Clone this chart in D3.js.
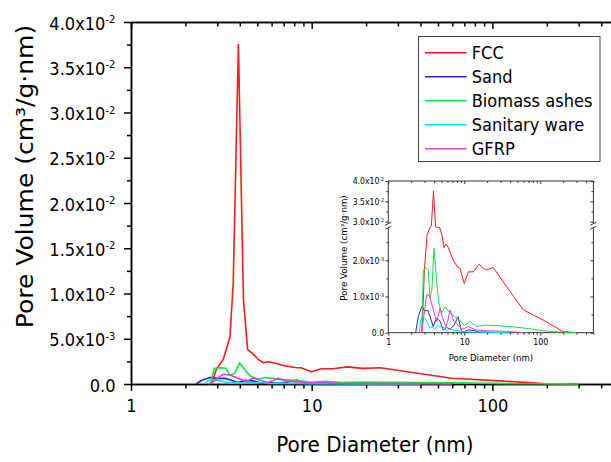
<!DOCTYPE html>
<html>
<head>
<meta charset="utf-8">
<script src="https://cdn.jsdelivr.net/npm/d3@7/dist/d3.min.js"></script>
<style>
  body { margin: 0; background: #fff; }
  svg { display: block; }
  text { font-family: "DejaVu Sans", Verdana, sans-serif; fill: #000; }
</style>
</head>
<body>
<svg id="chart" width="611" height="462"></svg>
<script>
// Pore size distribution of five materials.
// Pore diameter in nm, pore volume in cm3/g·nm.
const seriesNames = ["FCC", "Sand", "Biomass ashes", "Sanitary ware", "GFRP"];
const seriesColors = ["#ff1a1a", "#2626cc", "#18e03c", "#00e4f0", "#e03ce0"];

const fccDiameter = [2.79, 2.98, 3.24, 3.53, 3.68, 3.93, 4.19, 4.42, 4.75, 5.07, 5.41, 5.75, 6.16, 7.16, 8.1, 8.77, 9.98, 11.3, 13.1, 15.7, 19.1, 24.0, 36.1, 59.6, 109, 200, 300];
const fccVolume = [0, 0.0017, 0.0027, 0.0052, 0.0112, 0.0375, 0.0093, 0.0038, 0.0033, 0.0027, 0.00235, 0.00245, 0.00235, 0.0020, 0.00182, 0.00178, 0.00136, 0.00168, 0.00168, 0.00189, 0.00173, 0.0018, 0.00127, 0.00063, 0.00035, 0.00003, 0];

const sandDiameter = [2.29, 2.48, 2.75, 3.04, 3.3, 3.55, 3.9, 4.3, 4.8, 5.3, 5.8, 6.5, 7.3, 8.3, 9.2, 10.0, 11.3, 13.0, 16, 25, 40];
const sandVolume = [0, 0.00044, 0.00072, 0.0006, 0.00062, 0.00044, 0.00017, 0.0004, 0.00032, 0.00007, 0.00015, 0.0001, 0.0002, 0.00044, 0.00003, 0.00002, 0.00008, 0.00006, 0.00002, 0.00001, 0];

const ashesDiameter = [2.75, 2.89, 3.14, 3.36, 3.53, 3.75, 3.99, 4.33, 4.6, 5.04, 5.57, 6.49, 7.5, 8.7, 10.0, 11.9, 14.6, 18.7, 25, 40, 66, 133, 200, 300];
const ashesVolume = [0, 0.00173, 0.0018, 0.00173, 0.00095, 0.0012, 0.00233, 0.0014, 0.00085, 0.00054, 0.00072, 0.00054, 0.00044, 0.00035, 0.0002, 0.00031, 0.00017, 0.00021, 0.0002, 0.00017, 0.00012, 0.00003, 0.00002, 0];

const sanitaryDiameter = [2.56, 2.65, 2.75, 2.9, 3.04, 3.2, 3.53, 3.72, 4.1, 4.5, 4.9, 5.3, 5.8, 6.5, 7.55, 8.5, 9.7, 12, 20, 40];
const sanitaryVolume = [0, 0.0003, 0.00044, 0.00038, 0.0004, 0.0003, 0.00012, 0.00016, 0.0001, 0.0002, 0.00016, 0.00017, 0.00005, 0.0001, 0.00006, 0.00005, 0.00003, 0.00002, 0.00001, 0];

const gfrpDiameter = [2.7, 2.85, 3.0, 3.15, 3.26, 3.53, 3.91, 4.33, 4.79, 5.29, 5.7, 6.1, 6.49, 7.16, 7.9, 8.8, 9.6, 11.3, 14, 20, 35, 60];
const gfrpVolume = [0, 0.00025, 0.0006, 0.00095, 0.00107, 0.00099, 0.00063, 0.0003, 0.00067, 0.00035, 0.00017, 0.00035, 0.00063, 0.00035, 0.00026, 0.00015, 0.0001, 0.00017, 0.00008, 0.00005, 0.00004, 0];

const xMajorTicks = [1, 10, 100];
const xMinorTicks = [2, 3, 4, 5, 6, 7, 8, 9, 20, 30, 40, 50, 60, 70, 80, 90, 200, 300, 400, 500];
const yMajorTicks = [0, 0.005, 0.01, 0.015, 0.02, 0.025, 0.03, 0.035, 0.04];
const yMinorTicks = [0.0025, 0.0075, 0.0125, 0.0175, 0.0225, 0.0275, 0.0325, 0.0375];
const insetLowTicks = [0, 0.001, 0.002];
const insetLowMinor = [0.0005, 0.0015, 0.0025];
const insetHighTicks = [0.03, 0.035, 0.04];
const insetHighMinor = [0.0325, 0.0375];

const series = seriesNames.map((name, i) => {
  const d = [fccDiameter, sandDiameter, ashesDiameter, sanitaryDiameter, gfrpDiameter][i];
  const v = [fccVolume, sandVolume, ashesVolume, sanitaryVolume, gfrpVolume][i];
  return { name, color: seriesColors[i], points: d.map((x, j) => ({ x, y: v[j] })) };
});

// Glyphs in this figure are set slightly narrow: squeeze text horizontally.
const SX = 0.93;

const svg = d3.select("#chart");

// "5.0x10^-3" style labels with a raised exponent.
function sciLabel(textSel, v) {
  textSel.text(null);
  if (v === 0) { textSel.text("0.0"); return; }
  const e = Math.floor(Math.log10(v) + 1e-9);
  const m = v / Math.pow(10, e);
  textSel.append("tspan").text(m.toFixed(1) + "x10");
  textSel.append("tspan").attr("font-size", "0.62em").attr("dy", "-0.6em").text(String(e));
}

function styleAxis(g, width) {
  g.selectAll("path.domain").attr("stroke", "#000").attr("stroke-width", width);
  g.selectAll(".tick line").attr("stroke", "#000").attr("stroke-width", width);
}

/* ---------------- main plot ---------------- */
const x = d3.scaleLog().domain([1, 500]).range([131, 131 + 180.7 * Math.log10(500)]);
const y = d3.scaleLinear().domain([0, 0.04]).range([384, 22]);

const main = svg.append("g");

// bottom axis
const gb = main.append("g").attr("transform", `translate(0,${y(0)})`);
gb.call(d3.axisBottom(x).tickValues(xMinorTicks).tickSize(4.5).tickSizeOuter(0).tickFormat(""));
const gb2 = main.append("g").attr("transform", `translate(0,${y(0)})`);
gb2.call(d3.axisBottom(x).tickValues(xMajorTicks).tickSize(7).tickSizeOuter(0).tickFormat(d3.format("d")));
gb2.selectAll(".tick text").attr("y", 28.5).attr("dy", 0).attr("font-size", 17.5)
  .attr("transform", `scale(${SX},1)`);
styleAxis(gb, 1.5); styleAxis(gb2, 1.5);

// top axis, ticks pointing into the plot
const gt = main.append("g").attr("transform", `translate(0,${y(0.04)})`);
gt.call(d3.axisTop(x).tickValues(xMinorTicks).tickSize(-4.5).tickSizeOuter(0).tickFormat(""));
const gt2 = main.append("g").attr("transform", `translate(0,${y(0.04)})`);
gt2.call(d3.axisTop(x).tickValues(xMajorTicks).tickSize(-7).tickSizeOuter(0).tickFormat(""));
styleAxis(gt, 1.5); styleAxis(gt2, 1.5);

// left axis
const gl = main.append("g").attr("transform", `translate(${x(1)},0)`);
gl.call(d3.axisLeft(y).tickValues(yMinorTicks).tickSize(4).tickSizeOuter(0).tickFormat(""));
const gl2 = main.append("g").attr("transform", `translate(${x(1)},0)`);
gl2.call(d3.axisLeft(y).tickValues(yMajorTicks).tickSize(7).tickSizeOuter(0));
gl2.selectAll(".tick text").attr("x", -15.5 / SX).attr("dy", "0.4em").attr("font-size", 17.5)
  .attr("transform", `scale(${SX},1)`)
  .each(function (d) { sciLabel(d3.select(this), d); });
styleAxis(gl, 1.5); styleAxis(gl2, 1.5);

// right axis
const gr = main.append("g").attr("transform", `translate(${x(500)},0)`);
gr.call(d3.axisRight(y).tickValues(yMajorTicks).tickSize(-7).tickSizeOuter(0).tickFormat(""));
styleAxis(gr, 1.5);

// axis titles
main.append("text")
  .attr("transform", `translate(${(x(1) + x(500)) / 2},451.5) scale(${SX},1)`)
  .attr("text-anchor", "middle").attr("font-size", 21.5)
  .text("Pore Diameter (nm)");
main.append("text")
  .attr("transform", `translate(33,176.5) scale(${SX},1) rotate(-90)`)
  .attr("text-anchor", "middle").attr("font-size", 25)
  .text("Pore Volume (cm³/g·nm)");

// curves
const line = d3.line().x(p => x(p.x)).y(p => y(p.y));
main.append("g").selectAll("path").data(series).join("path")
  .attr("d", s => line(s.points))
  .attr("fill", "none").attr("stroke", s => s.color)
  .attr("stroke-width", 1.6).attr("stroke-linejoin", "round");

// legend
const legend = svg.append("g");
legend.append("rect").attr("x", 418.5).attr("y", 36.5).attr("width", 181.5).attr("height", 125)
  .attr("fill", "#fff").attr("stroke", "#444").attr("stroke-width", 1);
const rows = legend.selectAll("g.row").data(series).join("g").attr("class", "row")
  .attr("transform", (s, i) => `translate(0,${52.7 + i * 24})`);
rows.append("line").attr("x1", 425).attr("x2", 466.7)
  .attr("stroke", s => s.color).attr("stroke-width", 1.6);
rows.append("text").attr("transform", `translate(471.7,0) scale(${SX},1)`)
  .attr("dy", "0.36em").attr("font-size", 17.5).text(s => s.name);

/* ---------------- inset with broken y axis ---------------- */
const ix = d3.scaleLog().domain([1, 500]).range([388.3, 388.3 + 76 * Math.log10(500)]);
const iy = d3.scaleLinear().domain([0, 0.0029, 0.0295, 0.04]).range([332.7, 227.7, 223.7, 181]);
const inset = svg.append("g");
const ic = "#333";
const ixL = ix(1), ixR = ix(500);
const lowTop = iy(0.0029), highBottom = iy(0.0295);

// frame with a gap at the break
[[ixL, iy(0), ixR, iy(0)], [ixL, iy(0.04), ixR, iy(0.04)],
 [ixL, iy(0), ixL, lowTop], [ixL, highBottom, ixL, iy(0.04)],
 [ixR, iy(0), ixR, lowTop], [ixR, highBottom, ixR, iy(0.04)]].forEach(s => {
  inset.append("line").attr("x1", s[0]).attr("y1", s[1]).attr("x2", s[2]).attr("y2", s[3])
    .attr("stroke", ic).attr("stroke-width", 1);
});
// break marks
[ixL, ixR].forEach(bx => {
  [lowTop, highBottom].forEach(by => {
    inset.append("line").attr("x1", bx - 3).attr("y1", by + 1.5).attr("x2", bx + 3).attr("y2", by - 1.5)
      .attr("stroke", ic).attr("stroke-width", 1);
  });
});

function insetTicks(gen, values, size) {
  const g = inset.append("g");
  g.call(gen.tickValues(values).tickSize(size).tickSizeOuter(0).tickFormat(""));
  g.select("path.domain").remove();
  g.selectAll(".tick line").attr("stroke", ic).attr("stroke-width", 1);
  return g;
}
// x ticks
const ib = insetTicks(d3.axisBottom(ix), xMajorTicks, 3).attr("transform", `translate(0,${iy(0)})`);
insetTicks(d3.axisBottom(ix), xMinorTicks, 2).attr("transform", `translate(0,${iy(0)})`);
insetTicks(d3.axisTop(ix), xMajorTicks, -3).attr("transform", `translate(0,${iy(0.04)})`);
insetTicks(d3.axisTop(ix), xMinorTicks, -2).attr("transform", `translate(0,${iy(0.04)})`);
ib.selectAll(".tick").append("text").attr("y", 12).attr("text-anchor", "middle")
  .attr("font-size", 8.5).attr("transform", `scale(${SX},1)`).text(d => d3.format("d")(d));
// y ticks
const yMaj = insetLowTicks.concat(insetHighTicks);
const yMin = insetLowMinor.concat(insetHighMinor);
const il = insetTicks(d3.axisLeft(iy), yMaj, 3).attr("transform", `translate(${ixL},0)`);
insetTicks(d3.axisLeft(iy), yMin, 2).attr("transform", `translate(${ixL},0)`);
insetTicks(d3.axisRight(iy), yMaj, -3).attr("transform", `translate(${ixR},0)`);
insetTicks(d3.axisRight(iy), yMin, -2).attr("transform", `translate(${ixR},0)`);
il.selectAll(".tick").append("text").attr("x", -4.5).attr("dy", "0.34em")
  .attr("text-anchor", "end").attr("font-size", 8.3).attr("transform", `scale(${SX},1)`)
  .each(function (d) { sciLabel(d3.select(this), d); });

inset.append("text")
  .attr("transform", `translate(${(ixL + ixR) / 2},361) scale(${SX},1)`)
  .attr("text-anchor", "middle").attr("font-size", 9.2).text("Pore Diameter (nm)");
inset.append("text")
  .attr("transform", `translate(347,248) scale(${SX},1) rotate(-90)`)
  .attr("text-anchor", "middle").attr("font-size", 8.7).text("Pore Volume (cm³/g·nm)");

const iline = d3.line().x(p => ix(p.x)).y(p => iy(p.y));
inset.append("g").selectAll("path").data(series).join("path")
  .attr("d", s => iline(s.points))
  .attr("fill", "none").attr("stroke", s => s.color)
  .attr("stroke-width", 1).attr("stroke-linejoin", "round");
</script>
</body>
</html>
